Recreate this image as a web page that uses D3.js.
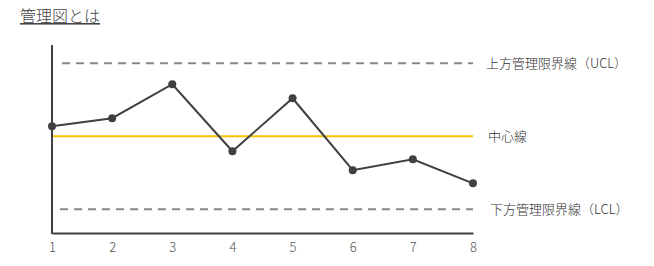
<!DOCTYPE html>
<html>
<head>
<meta charset="utf-8">
<script src="https://cdn.jsdelivr.net/npm/d3@7"></script>
<style>
  body { margin: 0; background: #fff; font-family: "Noto Sans CJK JP", "Noto Sans", sans-serif; }
  text { font-weight: 300; }
</style>
</head>
<body>
<div id="container"></div>
<script>
// data
const samples = [1, 2, 3, 4, 5, 6, 7, 8];
const values = [5.55, 5.99, 7.85, 4.18, 7.08, 3.14, 3.74, 2.42];
const ucl = 9;
const center = 5;
const lcl = 1;
const limitLabels = ["上方管理限界線（UCL）", "中心線", "下方管理限界線（LCL）"];
const title = "管理図とは";

const width = 654;
const height = 266;
const marginLeft = 52;
const marginRight = 181;
const marginTop = 45;
const marginBottom = 33;

const x = d3.scaleLinear()
  .domain(d3.extent(samples))
  .range([marginLeft, width - marginRight]);

const y = d3.scaleLinear()
  .domain([-0.3, 10])
  .range([height - marginBottom, marginTop]);

const svg = d3.create("svg")
  .attr("width", width)
  .attr("height", height)
  .attr("viewBox", [0, 0, width, height]);

// title
svg.append("text")
  .attr("x", 20)
  .attr("y", 22)
  .attr("font-size", 16)
  .attr("fill", "#444")
  .attr("text-decoration", "underline")
  .text(title);

// limit lines
const limits = [
  { v: ucl, label: limitLabels[0], dash: "8,6", color: "#888", x0: 62, dx: 13 },
  { v: center, label: limitLabels[1], dash: null, color: "#f5c000", x0: marginLeft, dx: 15 },
  { v: lcl, label: limitLabels[2], dash: "8,6", color: "#888", x0: 60, dx: 17 }
];

svg.append("g")
  .selectAll("line")
  .data(limits)
  .join("line")
  .attr("x1", d => d.x0)
  .attr("x2", width - marginRight)
  .attr("y1", d => y(d.v))
  .attr("y2", d => y(d.v))
  .attr("stroke", d => d.color)
  .attr("stroke-width", 2)
  .attr("stroke-dasharray", d => d.dash);

svg.append("g")
  .selectAll("text")
  .data(limits)
  .join("text")
  .attr("x", d => width - marginRight + d.dx)
  .attr("y", d => y(d.v))
  .attr("dy", "0.35em")
  .attr("font-size", 13)
  .attr("fill", "#333")
  .text(d => d.label);

// axes
svg.append("g")
  .attr("transform", `translate(0,${height - marginBottom})`)
  .call(d3.axisBottom(x).tickValues(samples).tickSize(0).tickPadding(10).tickFormat(d3.format("d")))
  .call(g => g.select(".domain").attr("stroke", "#404040").attr("stroke-width", 2))
  .call(g => g.selectAll(".tick text").attr("font-size", 13).attr("fill", "#555")
    .attr("font-family", "\"Noto Sans CJK JP\", sans-serif"));

svg.append("line")
  .attr("x1", marginLeft)
  .attr("x2", marginLeft)
  .attr("y1", marginTop)
  .attr("y2", height - marginBottom + 1)
  .attr("stroke", "#404040")
  .attr("stroke-width", 2);

// data line
const line = d3.line()
  .x((d, i) => x(samples[i]))
  .y(d => y(d));

svg.append("path")
  .datum(values)
  .attr("fill", "none")
  .attr("stroke", "#404040")
  .attr("stroke-width", 2)
  .attr("d", line);

svg.append("g")
  .selectAll("circle")
  .data(values)
  .join("circle")
  .attr("cx", (d, i) => x(samples[i]))
  .attr("cy", d => y(d))
  .attr("r", 4)
  .attr("fill", "#404040");

document.getElementById("container").append(svg.node());
</script>
</body>
</html>
